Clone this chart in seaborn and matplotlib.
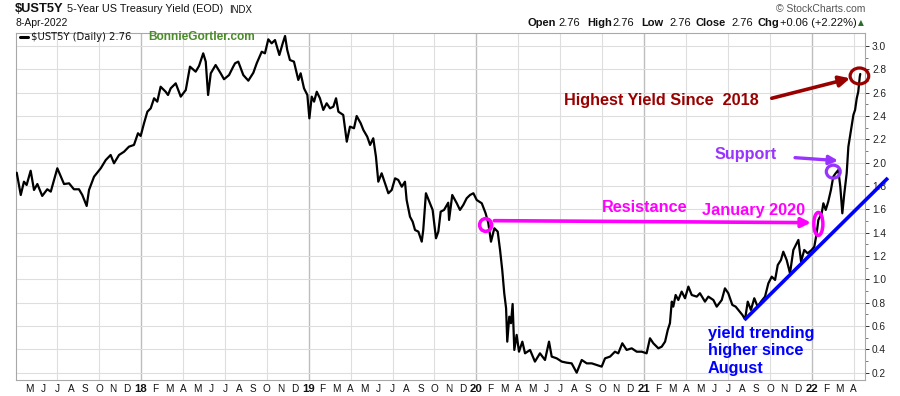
import numpy as np
import pandas as pd
import matplotlib
matplotlib.use("Agg")
import matplotlib.pyplot as plt
import seaborn as sns
from matplotlib.patches import Ellipse
from matplotlib.lines import Line2D

# ---------------- data (decimal year, yield %) ----------------
t_years = [
    2017.259, 2017.283, 2017.302, 2017.318, 2017.342, 2017.362, 2017.382, 2017.411, 2017.441, 2017.462,
    2017.501, 2017.541, 2017.571, 2017.600, 2017.630, 2017.650, 2017.676, 2017.690, 2017.720, 2017.760,
    2017.790, 2017.819, 2017.839, 2017.869, 2017.899, 2017.928, 2017.958, 2017.982, 2017.998, 2018.018,
    2018.038, 2018.058, 2018.078, 2018.097, 2018.117, 2018.147, 2018.161, 2018.177, 2018.207, 2018.237,
    2018.267, 2018.292, 2018.326, 2018.346, 2018.371, 2018.386, 2018.400, 2018.416, 2018.445, 2018.475,
    2018.495, 2018.525, 2018.550, 2018.561, 2018.580, 2018.610, 2018.640, 2018.670, 2018.690, 2018.720,
    2018.739, 2018.759, 2018.779, 2018.799, 2018.825, 2018.845, 2018.859, 2018.872, 2018.888, 2018.912,
    2018.938, 2018.952, 2018.972, 2018.992, 2019.004, 2019.018, 2019.032, 2019.048, 2019.067, 2019.087,
    2019.107, 2019.127, 2019.147, 2019.163, 2019.177, 2019.206, 2019.227, 2019.246, 2019.270, 2019.286,
    2019.310, 2019.326, 2019.349, 2019.366, 2019.385, 2019.401, 2019.415, 2019.435, 2019.455, 2019.475,
    2019.495, 2019.515, 2019.534, 2019.555, 2019.574, 2019.584, 2019.604, 2019.620, 2019.634, 2019.654,
    2019.674, 2019.683, 2019.699, 2019.719, 2019.739, 2019.759, 2019.773, 2019.787, 2019.807, 2019.832,
    2019.837, 2019.856, 2019.883, 2019.902, 2019.922, 2019.942, 2019.962, 2019.982, 2020.002, 2020.032,
    2020.055, 2020.071, 2020.087, 2020.107, 2020.127, 2020.141, 2020.154, 2020.166, 2020.177, 2020.184,
    2020.196, 2020.206, 2020.216, 2020.226, 2020.240, 2020.254, 2020.274, 2020.290, 2020.320, 2020.349,
    2020.379, 2020.409, 2020.433, 2020.449, 2020.479, 2020.509, 2020.538, 2020.568, 2020.598, 2020.628,
    2020.658, 2020.688, 2020.717, 2020.747, 2020.767, 2020.797, 2020.826, 2020.846, 2020.870, 2020.896,
    2020.926, 2020.956, 2020.986, 2021.015, 2021.035, 2021.055, 2021.085, 2021.105, 2021.125, 2021.141,
    2021.154, 2021.165, 2021.174, 2021.188, 2021.204, 2021.224, 2021.244, 2021.264, 2021.284, 2021.314,
    2021.333, 2021.363, 2021.383, 2021.413, 2021.433, 2021.463, 2021.482, 2021.502, 2021.526, 2021.546,
    2021.562, 2021.586, 2021.602, 2021.618, 2021.637, 2021.657, 2021.677, 2021.697, 2021.721, 2021.741,
    2021.761, 2021.781, 2021.797, 2021.816, 2021.830, 2021.850, 2021.870, 2021.890, 2021.910, 2021.920,
    2021.936, 2021.955, 2021.975, 2021.999, 2022.015, 2022.029, 2022.039, 2022.059, 2022.069, 2022.083,
    2022.098, 2022.114, 2022.128, 2022.142, 2022.158, 2022.170, 2022.182, 2022.194, 2022.208, 2022.218,
    2022.234, 2022.248, 2022.258, 2022.268, 2022.277, 2022.286, 2022.289,
]
yield_pct = [
    1.914, 1.723, 1.837, 1.809, 1.931, 1.766, 1.817, 1.715, 1.772, 1.752,
    1.952, 1.817, 1.823, 1.772, 1.772, 1.723, 1.629, 1.766, 1.880, 1.952,
    2.023, 2.066, 1.995, 2.066, 2.094, 2.137, 2.152, 2.252, 2.229, 2.338,
    2.437, 2.466, 2.552, 2.523, 2.651, 2.608, 2.580, 2.637, 2.680, 2.566,
    2.623, 2.823, 2.780, 2.829, 2.937, 2.866, 2.580, 2.766, 2.837, 2.766,
    2.715, 2.751, 2.823, 2.852, 2.866, 2.751, 2.703, 2.771, 2.852, 2.951,
    2.937, 3.057, 3.023, 3.051, 2.923, 3.023, 3.086, 2.966, 2.880, 2.866,
    2.709, 2.766, 2.637, 2.580, 2.380, 2.566, 2.523, 2.608, 2.552, 2.452,
    2.509, 2.466, 2.480, 2.552, 2.437, 2.409, 2.180, 2.309, 2.295, 2.400,
    2.338, 2.280, 2.223, 2.152, 2.209, 2.051, 1.837, 1.909, 1.823, 1.738,
    1.766, 1.866, 1.852, 1.794, 1.837, 1.680, 1.537, 1.494, 1.423, 1.409,
    1.323, 1.423, 1.738, 1.666, 1.595, 1.352, 1.409, 1.580, 1.595, 1.657,
    1.509, 1.723, 1.652, 1.595, 1.638, 1.695, 1.723, 1.738, 1.680, 1.652,
    1.566, 1.481, 1.323, 1.438, 1.409, 1.252, 1.081, 0.881, 0.752, 0.466,
    0.680, 0.624, 0.789, 0.395, 0.524, 0.380, 0.466, 0.366, 0.395, 0.295,
    0.366, 0.309, 0.466, 0.338, 0.323, 0.295, 0.286, 0.280, 0.200, 0.309,
    0.280, 0.280, 0.266, 0.252, 0.323, 0.338, 0.380, 0.366, 0.452, 0.395,
    0.409, 0.380, 0.380, 0.366, 0.495, 0.452, 0.409, 0.423, 0.466, 0.566,
    0.624, 0.809, 0.766, 0.866, 0.823, 0.895, 0.838, 0.938, 0.866, 0.852,
    0.881, 0.809, 0.852, 0.823, 0.766, 0.823, 0.923, 0.881, 0.781, 0.766,
    0.738, 0.695, 0.658, 0.809, 0.738, 0.838, 0.766, 0.809, 0.852, 0.966,
    1.023, 0.995, 1.123, 1.166, 1.237, 1.166, 1.052, 1.252, 1.309, 1.338,
    1.152, 1.252, 1.223, 1.252, 1.280, 1.395, 1.509, 1.566, 1.652, 1.595,
    1.666, 1.766, 1.880, 1.909, 1.937, 1.794, 1.566, 1.738, 1.909, 2.137,
    2.280, 2.409, 2.452, 2.552, 2.608, 2.737, 2.760,
]

month_letters = ["J", "F", "M", "A", "M", "J", "J", "A", "S", "O", "N", "D"]
years = [2017, 2018, 2019, 2020, 2021, 2022]
y_ticks = [0.2, 0.4, 0.6, 0.8, 1.0, 1.2, 1.4, 1.6, 1.8, 2.0, 2.2, 2.4, 2.6, 2.8, 3.0]

# ---------------- style ----------------
sns.set_style("white")
plt.rcParams['font.family'] = ['Liberation Sans', 'DejaVu Sans']

W, H = 900, 396
fig = plt.figure(figsize=(W / 100, H / 100), dpi=100)
fig.patch.set_facecolor("white")


def fx(px):
    return px / W


def fy(py):
    return 1 - py / H


ax = fig.add_axes([fx(16), fy(380), (865 - 16) / W, (380 - 33) / H])
df = pd.DataFrame({"t": t_years, "y": yield_pct})
sns.lineplot(data=df, x="t", y="y", ax=ax, color="black", lw=1.6, zorder=5)

x0, x1 = 2017.2546, 2022.3172
ax.set_xlim(x0, x1)
ax.set_ylim(0.1374, 3.1114)
ax.set_xlabel("")
ax.set_ylabel("")

# grid: horizontal
ax.set_yticks(y_ticks)
ax.set_yticklabels([f"{v:.1f}" for v in y_ticks])
ax.set_yticks(np.arange(0.3, 3.1, 0.2), minor=True)
ax.grid(axis="y", which="major", color="#dedede", lw=0.8)
ax.yaxis.tick_right()
ax.tick_params(axis="y", which="major", labelsize=7.3, colors="#333333", length=3,
               width=0.7, pad=2, labelcolor="#222222")
ax.tick_params(axis="y", which="minor", length=2, width=0.6, colors="#666666")

# grid: vertical quarterly, years darker
for yr in years:
    for m in (1, 4, 7, 10):
        t = yr + (m - 1) / 12
        if x0 < t < x1:
            ax.axvline(t, color="#bdbdbd" if m == 1 else "#dedede",
                       lw=1.0 if m == 1 else 0.8, zorder=0)

# month tick labels
tick_pos, tick_lab, is_year = [], [], []
for yr in years:
    for m in range(1, 13):
        t = yr + (m - 1) / 12
        if x0 + 0.03 < t < x1:
            tick_pos.append(t)
            if m == 1:
                tick_lab.append(str(yr)[2:])
                is_year.append(True)
            else:
                tick_lab.append(month_letters[m - 1])
                is_year.append(False)
ax.set_xticks(tick_pos)
ax.set_xticklabels(tick_lab)
ax.tick_params(axis="x", labelsize=7.2, length=0, pad=3, labelcolor="#111111")
for lab, yflag in zip(ax.get_xticklabels(), is_year):
    if yflag:
        lab.set_fontweight("bold")
        lab.set_fontsize(8.2)

for s in ax.spines.values():
    s.set_color("#a8a8a8")
    s.set_linewidth(0.8)

# ---------------- annotations ----------------
red = "#990000"
purple = "#9933ff"
magenta = "#ff00ff"
blue = "#0000ff"

ax.annotate("", xy=(2022.228, 2.723), xytext=(2021.761, 2.552),
            arrowprops=dict(arrowstyle="-|>", color=red, lw=2.6, mutation_scale=16,
                            shrinkA=0, shrinkB=0), zorder=7)
ax.add_patch(Ellipse((2022.284, 2.743), 0.111, 0.137, fill=False, ec=red, lw=2.3,
                     clip_on=False, zorder=7))
ax.text(2020.522, 2.537, "Highest Yield Since  2018", color=red, fontsize=11.7,
        fontweight="bold", va="center", ha="left", zorder=7)

ax.text(2021.417, 2.070, "Support", color=purple, fontsize=11.7, fontweight="bold",
        va="center", ha="left", zorder=7)
ax.annotate("", xy=(2022.157, 2.017), xytext=(2021.900, 2.043),
            arrowprops=dict(arrowstyle="-|>", color=purple, lw=2.4, mutation_scale=13,
                            shrinkA=0, shrinkB=0), zorder=7)
ax.add_patch(Ellipse((2022.128, 1.923), 0.083, 0.111, fill=False, ec=purple, lw=2.3,
                     zorder=7))

ax.text(2020.749, 1.620, "Resistance", color=magenta, fontsize=11.7, fontweight="bold",
        va="center", ha="left", zorder=7)
ax.text(2021.345, 1.586, "January 2020", color=magenta, fontsize=11.7, fontweight="bold",
        va="center", ha="left", zorder=7)
ax.annotate("", xy=(2021.995, 1.486), xytext=(2020.107, 1.503),
            arrowprops=dict(arrowstyle="-|>", color=magenta, lw=2.6, mutation_scale=14,
                            shrinkA=0, shrinkB=0), zorder=7)
ax.add_patch(Ellipse((2020.055, 1.466), 0.072, 0.109, fill=False, ec=magenta, lw=2.5,
                     zorder=7))
ax.add_patch(Ellipse((2022.039, 1.475), 0.054, 0.197, fill=False, ec=magenta, lw=2.5,
                     zorder=7))

ax.plot([2021.598, 2022.454], [0.652, 1.869], color=blue, lw=2.6, clip_on=False,
        solid_capstyle="butt", zorder=6)
ax.text(2021.381, 0.386, "yield trending\nhigher since\nAugust", color=blue,
        fontsize=11.7, fontweight="bold", va="center", ha="left", linespacing=1.22,
        zorder=7)

# ---------------- header texts ----------------
fig.text(fx(15), fy(9.5), "$UST5Y", fontsize=9.3, fontweight="bold", color="#111111",
         va="center", ha="left")
fig.text(fx(67), fy(9.5), "5-Year US Treasury Yield (EOD)", fontsize=7.8,
         color="#111111", va="center", ha="left")
fig.text(fx(229), fy(10), "INDX", fontsize=6.9, color="#111111", va="center", ha="left")
fig.text(fx(15), fy(22.5), "8-Apr-2022", fontsize=7.5, color="#111111",
         va="center", ha="left")
fig.text(fx(865), fy(9), "\u00a9 StockCharts.com", fontsize=7.5, color="#555555",
         va="center", ha="right")

ohlc = [("Open", True, 528), ("2.76", False, 558), ("High", True, 587), ("2.76", False, 612),
        ("Low", True, 641), ("2.76", False, 669), ("Close", True, 696), ("2.76", False, 731),
        ("Chg", True, 757), ("+0.06 (+2.22%)", False, 780)]
for s, b, px in ohlc:
    fig.text(fx(px), fy(23.5), s, fontsize=8, fontweight="bold" if b else "normal",
             color="#111111", va="center", ha="left")
fig.text(fx(858), fy(23), "\u25b2", fontsize=5.5, color="#2d6b2d", va="center", ha="left",
         family=["DejaVu Sans"])

# in-plot legend
fig.add_artist(Line2D([fx(20), fx(28)], [fy(36.5), fy(36.5)], color="black", lw=2.2))
fig.text(fx(31), fy(36.5), "$UST5Y (Daily) 2.76", fontsize=7.2, color="#111111",
         va="center", ha="left", family=["DejaVu Sans"])
fig.text(fx(148), fy(36.5), "BonnieGortler.com", fontsize=8.6, fontweight="bold",
         color="#4b8b2b", va="center", ha="left")

fig.savefig("out.png", dpi=100)
